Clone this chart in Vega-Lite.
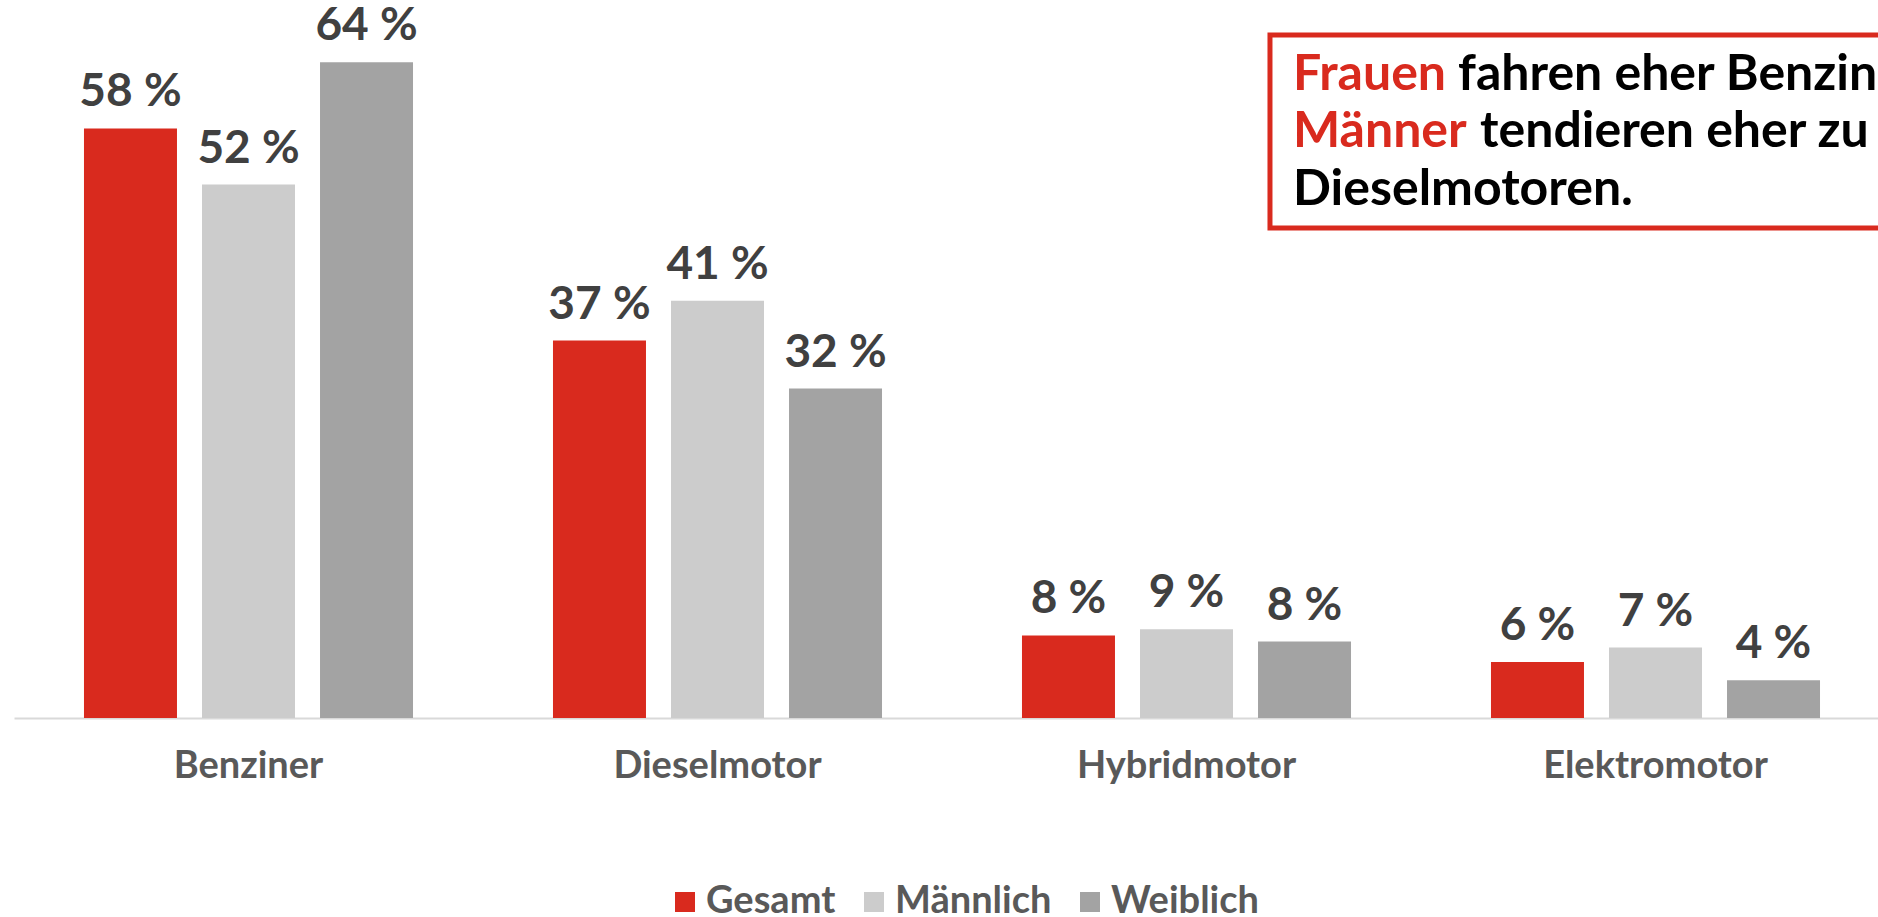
{
  "$schema": "https://vega.github.io/schema/vega-lite/v6.json",
  "width": 1876,
  "height": 714,
  "autosize": {"type": "none"},
  "padding": {"left": 14, "top": 4, "right": 0, "bottom": 199},
  "background": "white",
  "config": {"view": {"stroke": null}, "font": "Lato"},
  "layer": [
    {
      "data": {
        "values": [
          {"Antrieb": "Benziner", "Gruppe": "Gesamt", "Anteil": 57.8, "Label": "58 %"},
          {"Antrieb": "Benziner", "Gruppe": "Männlich", "Anteil": 52.3, "Label": "52 %"},
          {"Antrieb": "Benziner", "Gruppe": "Weiblich", "Anteil": 64.3, "Label": "64 %"},
          {"Antrieb": "Dieselmotor", "Gruppe": "Gesamt", "Anteil": 37.0, "Label": "37 %"},
          {"Antrieb": "Dieselmotor", "Gruppe": "Männlich", "Anteil": 40.9, "Label": "41 %"},
          {"Antrieb": "Dieselmotor", "Gruppe": "Weiblich", "Anteil": 32.3, "Label": "32 %"},
          {"Antrieb": "Hybridmotor", "Gruppe": "Gesamt", "Anteil": 8.1, "Label": "8 %"},
          {"Antrieb": "Hybridmotor", "Gruppe": "Männlich", "Anteil": 8.7, "Label": "9 %"},
          {"Antrieb": "Hybridmotor", "Gruppe": "Weiblich", "Anteil": 7.5, "Label": "8 %"},
          {"Antrieb": "Elektromotor", "Gruppe": "Gesamt", "Anteil": 5.5, "Label": "6 %"},
          {"Antrieb": "Elektromotor", "Gruppe": "Männlich", "Anteil": 6.9, "Label": "7 %"},
          {"Antrieb": "Elektromotor", "Gruppe": "Weiblich", "Anteil": 3.7, "Label": "4 %"}
        ]
      },
      "encoding": {
        "x": {
          "field": "Antrieb",
          "type": "nominal",
          "sort": ["Benziner", "Dieselmotor", "Hybridmotor", "Elektromotor"],
          "scale": {"paddingInner": 0, "paddingOuter": 0},
          "axis": {
            "title": null,
            "orient": "bottom",
            "labelAngle": 0,
            "ticks": false,
            "domainColor": "#D9D9D9",
            "domainWidth": 2,
            "labelFont": "Lato",
            "labelFontSize": 38,
            "labelFontWeight": "bold",
            "labelColor": "#595959",
            "labelPadding": 29,
            "labelLimit": 400
          }
        },
        "xOffset": {
          "field": "Gruppe",
          "type": "nominal",
          "sort": ["Gesamt", "Männlich", "Weiblich"],
          "scale": {"paddingInner": 0.212, "paddingOuter": 0.593}
        },
        "y": {
          "field": "Anteil",
          "type": "quantitative",
          "scale": {"domain": [0, 70], "nice": false},
          "axis": null
        }
      },
      "layer": [
        {
          "mark": {"type": "bar"},
          "encoding": {
            "color": {
              "field": "Gruppe",
              "type": "nominal",
              "sort": ["Gesamt", "Männlich", "Weiblich"],
              "scale": {"domain": ["Gesamt", "Männlich", "Weiblich"], "range": ["#D92A1E", "#CCCCCC", "#A3A3A3"]},
              "legend": {
                "title": null,
                "orient": "none",
                "legendX": 652,
                "legendY": 879,
                "padding": 0,
                "direction": "horizontal",
                "symbolType": "square",
                "symbolSize": 400,
                "symbolStrokeWidth": 0,
                "labelFont": "Lato",
                "labelFontSize": 38,
                "labelFontWeight": "bold",
                "labelColor": "#595959",
                "labelOffset": 2,
                "columnPadding": 19,
                "labelLimit": 400
              }
            }
          }
        },
        {
          "mark": {"type": "text", "baseline": "alphabetic", "dy": -22, "fontSize": 46, "fontWeight": "bold", "font": "Lato", "color": "#404040"},
          "encoding": {"text": {"field": "Label", "type": "nominal"}}
        }
      ]
    },
    {
      "encoding": {
        "x": {"field": "xa", "type": "quantitative", "scale": {"domain": [0, 4], "nice": false, "zero": false}, "axis": null},
        "y": {"field": "ya", "type": "quantitative", "scale": {"domain": [0, 70], "nice": false}, "axis": null}
      },
      "layer": [
        {
          "data": {"values": [{"xa": 2.678, "xb": 4.1, "ya": 66.96, "yb": 48.04}]},
          "mark": {"type": "rect", "fill": "white", "stroke": "#D92A1E", "strokeWidth": 5},
          "encoding": {"x2": {"field": "xb"}, "y2": {"field": "yb"}}
        },
        {
          "data": {
            "values": [
              {"xa": 2.727, "ya": 61.57, "Text": "Frauen", "Teil": "hervor"},
              {"xa": 3.079, "ya": 61.57, "Text": "fahren eher Benziner,", "Teil": "normal"},
              {"xa": 2.727, "ya": 55.98, "Text": "Männer", "Teil": "hervor"},
              {"xa": 3.126, "ya": 55.98, "Text": "tendieren eher zu", "Teil": "normal"},
              {"xa": 2.727, "ya": 50.29, "Text": "Dieselmotoren.", "Teil": "normal"}
            ]
          },
          "layer": [
            {
              "transform": [{"filter": "datum.Teil === 'hervor'"}],
              "mark": {"type": "text", "align": "left", "baseline": "alphabetic", "fontSize": 50, "fontWeight": "bold", "font": "Lato", "color": "#D92A1E"},
              "encoding": {"text": {"field": "Text", "type": "nominal"}}
            },
            {
              "transform": [{"filter": "datum.Teil === 'normal'"}],
              "mark": {"type": "text", "align": "left", "baseline": "alphabetic", "fontSize": 50, "fontWeight": "bold", "font": "Lato", "color": "#000000"},
              "encoding": {"text": {"field": "Text", "type": "nominal"}}
            }
          ]
        }
      ]
    }
  ],
  "resolve": {"scale": {"x": "independent"}}
}
